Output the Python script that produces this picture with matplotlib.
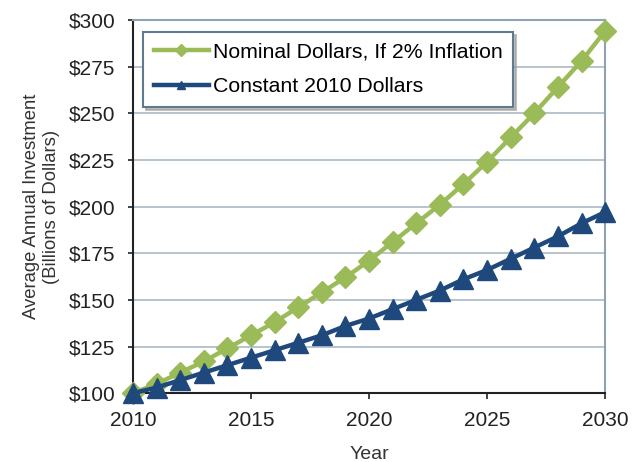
import matplotlib
matplotlib.use('Agg')
import matplotlib.pyplot as plt

years = list(range(2010, 2031))
nominal = [100, 105, 111, 117, 124, 131, 138, 146, 154, 162, 171,
           181, 191, 201, 212, 224, 237, 250, 264, 278, 294]
constant = [100, 103, 107, 111, 115, 119, 123, 127, 131, 136, 140,
            145, 150, 155, 161, 166, 172, 178, 184, 191, 197]
y_ticks = [100, 125, 150, 175, 200, 225, 250, 275, 300]
x_ticks = [2010, 2015, 2020, 2025, 2030]

plt.rcParams['font.family'] = ['Liberation Sans', 'DejaVu Sans']

fig = plt.figure(figsize=(6.35, 4.62), dpi=100)
ax = fig.add_axes([0.2094, 0.149, 0.7436, 0.808])

ax.plot(years, nominal, color='#9BBB59', lw=3.2, marker='D', ms=11,
        label='Nominal Dollars, If 2% Inflation', zorder=3, clip_on=False)
ax.plot(years, constant, color='#1F497D', lw=3.2, marker='^', ms=14,
        label='Constant 2010 Dollars', zorder=4, clip_on=False)

ax.set_xlim(2010, 2030)
ax.set_ylim(100, 300)
ax.set_xticks(x_ticks)
ax.set_yticks(y_ticks)
ax.set_yticklabels([f'${v}' for v in y_ticks])
ax.tick_params(labelsize=15, direction='out', width=1.2, colors='#222222')
ax.tick_params(axis='y', length=3.6, pad=9)
ax.tick_params(axis='x', length=4.3, pad=8.5)
ax.grid(axis='y', color='#A9BAC8', lw=1.2)
ax.set_axisbelow(True)

for s in ['left', 'bottom']:
    ax.spines[s].set_color('#222222')
    ax.spines[s].set_linewidth(1.5)
for s in ['top', 'right']:
    ax.spines[s].set_color('#8DA2B4')
    ax.spines[s].set_linewidth(1.5)

ax.set_xlabel('Year', fontsize=14, color='#333333', labelpad=11.5)
ax.set_ylabel('Average Annual Investment\n(Billions of Dollars)', fontsize=13.3,
              color='#333333', linespacing=1.25, labelpad=6)

leg = ax.legend(loc='upper left', bbox_to_anchor=(0.021, 0.968), fontsize=15.3,
                frameon=True, fancybox=False, shadow={'color': '#999999', 'alpha': 0.6},
                handlelength=2.6, borderpad=0.5, labelspacing=0.75, handletextpad=0.2,
                borderaxespad=0)
leg.get_frame().set_edgecolor('#5F7A8E')
leg.get_frame().set_linewidth(1.5)
for h in leg.legend_handles:
    h.set_markersize(6)

fig.savefig('out.png', dpi=100)
